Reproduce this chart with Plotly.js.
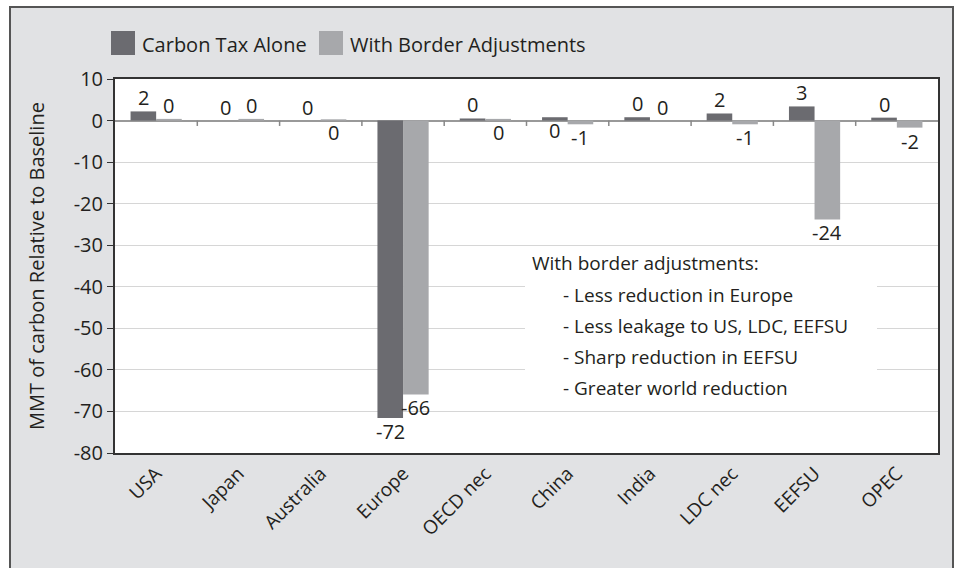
<!DOCTYPE html>
<html>
<head>
<meta charset="utf-8">
<script src="https://cdn.plot.ly/plotly-3.0.1.min.js"></script>
<style>html,body{margin:0;padding:0;background:#fff;}#chart{width:957px;height:568px;}</style>
</head>
<body>
<div id="chart"></div>
<script>
// ---- data ----
const categories = ['USA','Japan','Australia','Europe','OECD nec','China','India','LDC nec','EEFSU','OPEC'];
const seriesNames = ['Carbon Tax Alone','With Border Adjustments'];
const carbonTaxAlone = [2.2, 0, 0, -71.6, 0.5, 0.8, 0.8, 1.7, 3.4, 0.7];
const withBorderAdjustments = [0.4, 0.4, 0.3, -65.9, 0.4, -0.9, 0, -0.9, -23.8, -1.7];
const carbonTaxLabels = ['2','0','0','-72','0','0','0','2','3','0'];
const borderAdjLabels = ['0','0','0','-66','0','-1','0','-1','-24','-2'];
const carbonTaxLabelSide = ['above','above','above','below','above','below','above','above','above','above'];
const borderAdjLabelSide = ['above','above','below','below','below','below','above','below','below','below'];
const yTickValues = [10, 0, -10, -20, -30, -40, -50, -60, -70, -80];
const yAxisTitle = 'MMT of carbon Relative to Baseline';
const noteLines = ['With border adjustments:', '- Less reduction in Europe', '- Less leakage to US, LDC, EEFSU', '- Sharp reduction in EEFSU', '- Greater world reduction'];

// ---- layout geometry ----
const W = 957, H = 568;
const M = {l: 115, r: 19, t: 79, b: 115};
const PW = W - M.l - M.r, PH = H - M.t - M.b;
const px2x = p => (p - M.l) / PW;
const py2y = p => (H - M.b - p) / PH;
const FONT = '"Open Sans", "Noto Sans", sans-serif';
const TXT = '#231f20';
const DARK = '#6b6b70', LIGHT = '#a7a8ab';
const BARGAP = 0.378;
const barHalf = PW / categories.length * (1 - BARGAP) / 4;

const traces = [
  {type: 'bar', name: seriesNames[0], x: categories, y: carbonTaxAlone, marker: {color: DARK}, showlegend: false, hoverinfo: 'skip'},
  {type: 'bar', name: seriesNames[1], x: categories, y: withBorderAdjustments, marker: {color: LIGHT}, showlegend: false, hoverinfo: 'skip'}
];

const annotations = [];
[[carbonTaxAlone, carbonTaxLabels, carbonTaxLabelSide, -barHalf], [withBorderAdjustments, borderAdjLabels, borderAdjLabelSide, barHalf]].forEach(([vals, labels, sides, shift]) => {
  vals.forEach((v, j) => {
    annotations.push({
      x: j, y: v, xref: 'x', yref: 'y', xshift: shift,
      yanchor: sides[j] === 'above' ? 'bottom' : 'top',
      yshift: sides[j] === 'above' ? -2 : 2,
      text: labels[j], showarrow: false,
      font: {family: FONT, size: 20, color: TXT}
    });
  });
});

// legend (manual)
const legendItems = [{x0: 111, tx: 140, color: DARK}, {x0: 319, tx: 348, color: LIGHT}];
const shapes = [];
// outer frame
shapes.push({type: 'rect', xref: 'paper', yref: 'paper', x0: px2x(10), x1: px2x(953), y0: py2y(580), y1: py2y(7),
  fillcolor: '#e1e2e4', line: {color: '#555', width: 2}, layer: 'below'});
// plot area white
shapes.push({type: 'rect', xref: 'paper', yref: 'paper', x0: 0, x1: 1, y0: 0, y1: 1,
  fillcolor: '#ffffff', line: {width: 0}, layer: 'below'});
legendItems.forEach((it, i) => {
  shapes.push({type: 'rect', xref: 'paper', yref: 'paper', x0: px2x(it.x0), x1: px2x(it.x0 + 24), y0: py2y(55), y1: py2y(31),
    fillcolor: it.color, line: {width: 0}});
  annotations.push({xref: 'paper', yref: 'paper', x: px2x(it.tx), y: py2y(44), xanchor: 'left', yanchor: 'middle',
    text: seriesNames[i], showarrow: false, font: {family: FONT, size: 20, color: TXT}});
});
// category boundary ticks on zero line
for (let j = 0; j < categories.length - 1; j++) {
  shapes.push({type: 'line', xref: 'x', yref: 'y', x0: j + 0.5, x1: j + 0.5, y0: 0, y1: -1.3,
    line: {color: '#888', width: 1.5}, layer: 'above'});
}
// note box
shapes.push({type: 'rect', xref: 'paper', yref: 'paper', x0: px2x(525), x1: px2x(877), y0: py2y(405), y1: py2y(248),
  fillcolor: '#ffffff', line: {width: 0}, layer: 'above'});
noteLines.forEach((t, i) => {
  annotations.push({xref: 'paper', yref: 'paper', x: px2x(i === 0 ? 530 : 561), y: py2y(263 + (i === 0 ? 0 : 32 + (i - 1) * 31)),
    xanchor: 'left', yanchor: 'middle', text: t, showarrow: false, font: {family: FONT, size: 19, color: TXT}});
});

const layout = {
  width: W, height: H,
  margin: M,
  paper_bgcolor: '#ffffff', plot_bgcolor: '#ffffff',
  barmode: 'group', bargap: BARGAP, bargroupgap: 0,
  showlegend: false,
  font: {family: FONT, color: TXT, size: 20},
  xaxis: {
    type: 'category', range: [-0.5, categories.length - 0.5],
    showline: true, linecolor: '#333', linewidth: 2, mirror: true,
    ticks: '', showgrid: false, zeroline: false,
    tickangle: -45,
    tickfont: {family: FONT, size: 19, color: TXT}
  },
  yaxis: {
    range: [-80, 10], tickvals: yTickValues, ticktext: yTickValues.map(String),
    showline: true, linecolor: '#333', linewidth: 2, mirror: true,
    ticks: 'outside', ticklen: 6, tickcolor: '#333', tickwidth: 1,
    showgrid: true, gridcolor: '#d6d6d6', gridwidth: 1,
    zeroline: true, zerolinecolor: '#999', zerolinewidth: 2,
    tickfont: {family: FONT, size: 20, color: TXT},
    title: {text: yAxisTitle, font: {family: FONT, size: 20, color: TXT}, standoff: 24}
  },
  shapes: shapes,
  annotations: annotations
};

Plotly.newPlot('chart', traces, layout, {displayModeBar: false, staticPlot: true});
</script>
</body>
</html>
